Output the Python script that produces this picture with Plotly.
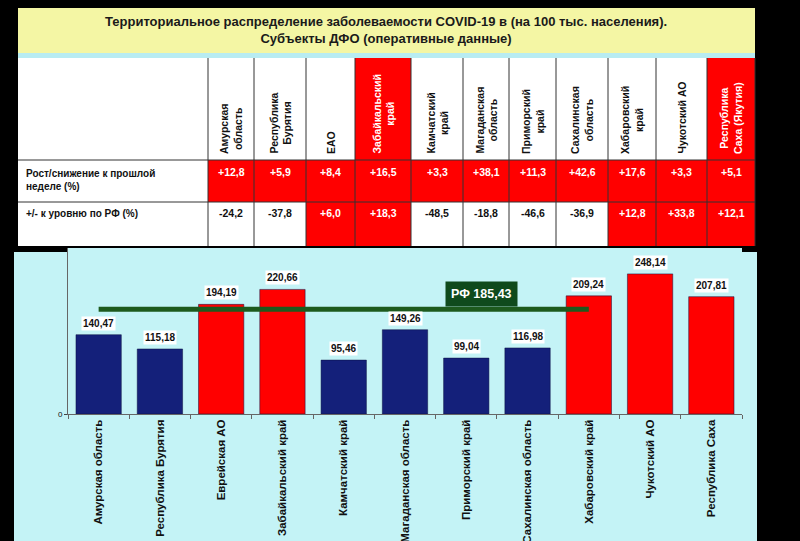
import plotly.graph_objects as go

# ---- data ----
regions = ["Амурская область", "Республика Бурятия", "Еврейская АО", "Забайкальский край",
           "Камчатский край", "Магаданская область", "Приморский край", "Сахалинская область",
           "Хабаровский край", "Чукотский АО", "Республика Саха"]
values = [140.47, 115.18, 194.19, 220.66, 95.46, 149.26, 99.04, 116.98, 209.24, 248.14, 207.81]
rf_value = 185.43
header_labels = ["Амурская<br>область", "Республика<br>Бурятия", "ЕАО", "Забайкальский<br>край",
                 "Камчатский<br>край", "Магаданская<br>область", "Приморский<br>край",
                 "Сахалинская<br>область", "Хабаровский<br>край", "Чукотский АО",
                 "Республика<br>Саха (Якутия)"]
week_change = ["+12,8", "+5,9", "+8,4", "+16,5", "+3,3", "+38,1", "+11,3", "+42,6", "+17,6", "+3,3", "+5,1"]
vs_rf = ["-24,2", "-37,8", "+6,0", "+18,3", "-48,5", "-18,8", "-46,6", "-36,9", "+12,8", "+33,8", "+12,1"]
row_labels = ["Рост/снижение к прошлой<br>неделе (%)", "+/- к уровню по РФ (%)"]
title = "Территориальное распределение заболеваемости COVID-19 в (на 100 тыс. населения).<br>Субъекты ДФО (оперативные данные)"

W, H = 800, 541
RED, NAVY = "#ff0000", "#14207a"
FONT = "Liberation Sans"
def px(x): return x / W
def py(y): return 1 - y / H

bar_colors = [RED if v > rf_value else NAVY for v in values]

fig = go.Figure(go.Bar(x=regions, y=values, marker=dict(color=bar_colors, line=dict(color="#0b1040", width=0.5)),
                       width=0.74, showlegend=False))

shapes, ann = [], []
shapes.append(dict(type="rect", xref="paper", yref="paper", x0=px(14), x1=px(757), y0=py(541), y1=py(252),
                   fillcolor="#c4f3f6", line_width=0, layer="below"))
shapes.append(dict(type="rect", xref="paper", yref="paper", x0=px(18), x1=px(755), y0=py(53), y1=py(8),
                   fillcolor="#f4f6a4", line_width=0, layer="below"))
shapes.append(dict(type="rect", xref="paper", yref="paper", x0=px(18), x1=px(755), y0=py(58), y1=py(53),
                   fillcolor="#b8ecf2", line_width=0, layer="below"))
ann.append(dict(xref="paper", yref="paper", x=px(386), y=py(30), xanchor="center", yanchor="middle",
                text="<b>" + title + "</b>", showarrow=False,
                font=dict(family=FONT, size=13, color="#1a1a1a")))

bounds = [208, 254, 306, 355, 411, 463, 509, 556, 608, 656, 707, 755]
rows_y = [58, 160, 202, 246]
shapes.append(dict(type="rect", xref="paper", yref="paper", x0=px(18), x1=px(755), y0=py(246), y1=py(58),
                   fillcolor="white", line_width=0, layer="below"))
header_red = {3, 10}
row2_red = {i for i, v in enumerate(vs_rf) if v.startswith("+")}
for i in range(11):
    x0, x1 = bounds[i], bounds[i + 1]
    cx = px((x0 + x1) / 2)
    cells = [(i in header_red), True, (i in row2_red)]
    for r in range(3):
        if cells[r]:
            shapes.append(dict(type="rect", xref="paper", yref="paper", x0=px(x0), x1=px(x1),
                               y0=py(rows_y[r + 1]), y1=py(rows_y[r]), fillcolor=RED, line_width=0, layer="below"))
    ann.append(dict(xref="paper", yref="paper", x=cx, y=py(156), xanchor="center", yanchor="bottom",
                    text="<b>" + header_labels[i] + "</b>", textangle=-90, showarrow=False,
                    font=dict(family=FONT, size=10.5, color="white" if i in header_red else "#111")))
    ann.append(dict(xref="paper", yref="paper", x=cx, y=py(172), xanchor="center", yanchor="middle",
                    text="<b>" + week_change[i] + "</b>", showarrow=False,
                    font=dict(family=FONT, size=10.5, color="white")))
    ann.append(dict(xref="paper", yref="paper", x=cx, y=py(213), xanchor="center", yanchor="middle",
                    text="<b>" + vs_rf[i] + "</b>", showarrow=False,
                    font=dict(family=FONT, size=10.5, color="white" if i in row2_red else "#111")))
for b in bounds:
    shapes.append(dict(type="line", xref="paper", yref="paper", x0=px(b), x1=px(b), y0=py(246), y1=py(58),
                       line=dict(color="#333", width=1)))
for y in rows_y[1:3]:
    shapes.append(dict(type="line", xref="paper", yref="paper", x0=px(18), x1=px(755), y0=py(y), y1=py(y),
                       line=dict(color="#333", width=1)))
for r, lab in enumerate(row_labels):
    ann.append(dict(xref="paper", yref="paper", x=px(24), y=py([180, 213][r]), xanchor="left", yanchor="middle",
                    align="left", text="<b>" + lab + "</b>", showarrow=False,
                    font=dict(family=FONT, size=10, color="#111")))

for reg, v in zip(regions, values):
    ann.append(dict(x=reg, y=v, xanchor="center", yanchor="bottom", yshift=4,
                    text="<b>" + f"{v:.2f}".replace(".", ",") + "</b>",
                    showarrow=False, bgcolor="white", borderpad=1,
                    font=dict(family=FONT, size=10, color="#111")))
shapes.append(dict(type="line", xref="x", yref="y", x0=0, x1=8, y0=rf_value, y1=rf_value,
                   line=dict(color="#1d5a1d", width=5)))
ann.append(dict(x=6.25, y=rf_value, xanchor="center", yanchor="bottom", yshift=2, showarrow=False,
                text="<b>РФ " + f"{rf_value:.2f}".replace(".", ",") + "</b>",
                bgcolor="#0f4a1c", borderpad=5, font=dict(family=FONT, size=12.5, color="white")))

fig.update_layout(
    width=W, height=H, margin=dict(l=0, r=0, t=0, b=0),
    paper_bgcolor="black", plot_bgcolor="#c4f3f6",
    shapes=shapes, annotations=ann, bargap=0.26,
    xaxis=dict(domain=[px(68), px(742)], tickangle=-90, showline=True, linecolor="#666",
               ticks="outside", tickson="boundaries", ticklen=4, tickcolor="#666", automargin=False,
               tickfont=dict(family=FONT, size=11.5, color="#111")),
    yaxis=dict(domain=[py(414), py(248)], range=[0, 294], tickvals=[0], showgrid=False, zeroline=False,
               showline=True, linecolor="#666", ticks="outside", ticklen=3, automargin=False,
               tickfont=dict(family=FONT, size=8, color="#111")),
)
fig.update_xaxes(tickprefix="<b>", ticksuffix="</b>")
html = fig.to_html(include_plotlyjs=True, full_html=True, config={"displayModeBar": False})
html = html.replace("<body>", '<body style="margin:0;padding:0;overflow:hidden;background:black">', 1)
with open("out.html", "w", encoding="utf-8") as f:
    f.write(html)
